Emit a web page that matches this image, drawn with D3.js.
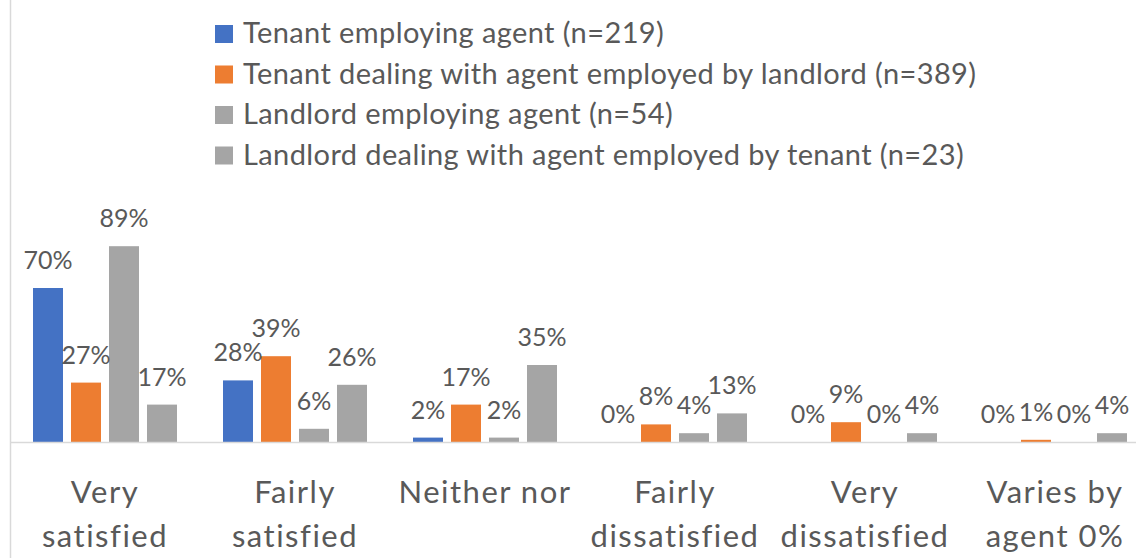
<!DOCTYPE html>
<html>
<head>
<meta charset="utf-8">
<script src="https://cdnjs.cloudflare.com/ajax/libs/d3/7.8.5/d3.min.js"></script>
<style>
  html, body { margin: 0; padding: 0; background: #fff; }
  svg { display: block; font-family: Lato, "Open Sans", sans-serif; }
</style>
</head>
<body>
<svg id="chart" width="1136" height="558"></svg>
<script>
const categories = ["Very satisfied", "Fairly satisfied", "Neither nor", "Fairly dissatisfied", "Very dissatisfied", "Varies by agent 0%"];
const tickLines = [["Very", "satisfied"], ["Fairly", "satisfied"], ["Neither nor"], ["Fairly", "dissatisfied"], ["Very", "dissatisfied"], ["Varies by", "agent 0%"]];
const seriesNames = [
  "Tenant employing agent (n=219)",
  "Tenant dealing with agent employed by landlord (n=389)",
  "Landlord employing agent (n=54)",
  "Landlord dealing with agent employed by tenant (n=23)"
];
const tenantEmploying = [70, 28, 2, 0, 0, 0];
const tenantDealing = [27, 39, 17, 8, 9, 1];
const landlordEmploying = [89, 6, 2, 4, 0, 0];
const landlordDealing = [17, 26, 35, 13, 4, 4];
const seriesValues = [tenantEmploying, tenantDealing, landlordEmploying, landlordDealing];
const colors = ["#4472C4", "#ED7D31", "#A5A5A5", "#A5A5A5"];

const svg = d3.select("#chart");
const textColor = "#595959";
const gridColor = "#D9D9D9";

const x0 = d3.scaleBand().domain(categories).range([10, 1150]).padding(0);
const x1 = d3.scaleBand().domain(d3.range(4)).range([23, 167]).paddingInner(8 / 38).paddingOuter(0);
const y = d3.scaleLinear().domain([0, 100]).range([442, 222]);

// left border line
svg.append("line")
  .attr("x1", 10.5).attr("x2", 10.5).attr("y1", 0).attr("y2", 558)
  .attr("stroke", gridColor).attr("stroke-width", 1.5);

// bars
const groups = svg.append("g").selectAll("g")
  .data(categories)
  .join("g")
  .attr("transform", d => `translate(${x0(d)},0)`);

groups.selectAll("rect")
  .data((d, i) => seriesValues.map((s, k) => ({ k, v: s[i] })))
  .join("rect")
  .attr("x", d => x1(d.k))
  .attr("width", x1.bandwidth())
  .attr("y", d => y(d.v))
  .attr("height", d => y(0) - y(d.v))
  .attr("fill", d => colors[d.k]);

groups.selectAll("text.lbl")
  .data((d, i) => seriesValues.map((s, k) => ({ k, v: s[i] })))
  .join("text")
  .attr("class", "lbl")
  .attr("x", d => x1(d.k) + x1.bandwidth() / 2)
  .attr("y", d => y(d.v) - 19)
  .attr("text-anchor", "middle")
  .attr("font-size", 25)
  .attr("fill", textColor)
  .text(d => d.v + "%");

// x axis
const xAxis = d3.axisBottom(x0).tickSize(0).tickFormat("");
const ax = svg.append("g").attr("transform", "translate(0,442)").call(xAxis);
ax.select(".domain").attr("stroke", gridColor).attr("stroke-width", 1.5);
ax.selectAll(".tick").each(function (d, i) {
  const t = d3.select(this).append("text")
    .attr("text-anchor", "middle")
    .attr("fill", textColor)
    .attr("font-size", 31)
    .attr("letter-spacing", 1.5)
    .attr("font-family", "Lato, 'Open Sans', sans-serif");
  tickLines[i].forEach((line, j) => {
    t.append("tspan").attr("x", 0).attr("y", 61 + j * 44).text(line);
  });
});

// legend
const legend = svg.append("g");
const rows = legend.selectAll("g").data(seriesNames).join("g")
  .attr("transform", (d, i) => `translate(215,${25 + i * 40.5})`);
rows.append("rect").attr("width", 18).attr("height", 18).attr("fill", (d, i) => colors[i]);
rows.append("text").attr("x", 28).attr("y", 18).attr("font-size", 29)
  .attr("letter-spacing", 0.4)
  .attr("fill", textColor).text(d => d);
</script>
</body>
</html>
